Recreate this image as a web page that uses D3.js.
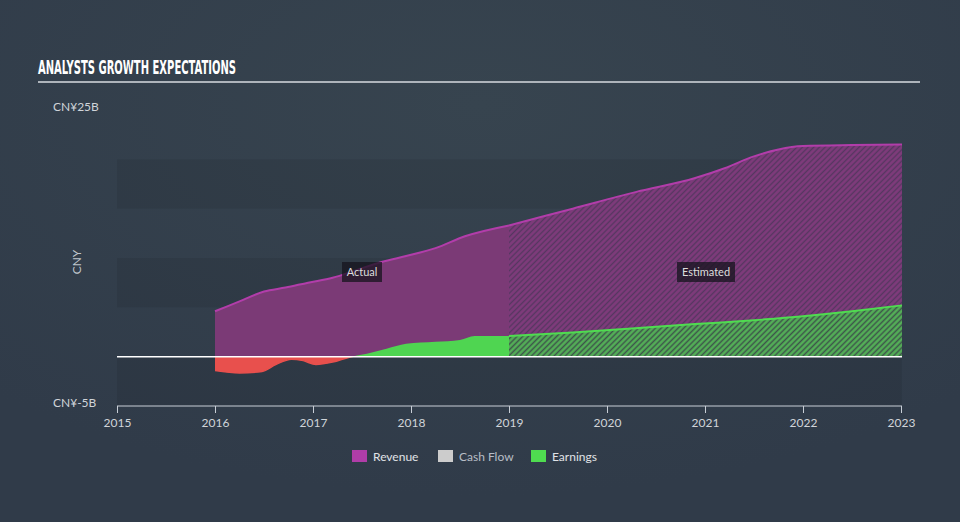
<!DOCTYPE html>
<html>
<head>
<meta charset="utf-8">
<script src="https://cdn.jsdelivr.net/npm/d3@7"></script>
<style>
  html, body { margin: 0; padding: 0; background: #323e4c; }
  svg { display: block; }
</style>
</head>
<body>
<svg id="chart" width="960" height="522"></svg>
<script>
// ---- Data (values in CNY billions, dates as decimal years) ----
const xTickYears = [2015, 2016, 2017, 2018, 2019, 2020, 2021, 2022, 2023];
const yTickLabels = ["CN¥25B", "CN¥-5B"];
const yTickValues = [25, -5];
const legendNames = ["Revenue", "Cash Flow", "Earnings"];

const revenueActualDates = [2016.0, 2016.25, 2016.5, 2016.72, 2016.95, 2017.2, 2017.45, 2017.7, 2017.95, 2018.25, 2018.55, 2019.0];
const revenueActual      = [4.6,    5.6,     6.6,    7.0,     7.5,     8.0,    8.8,     9.6,    10.2,    11.0,    12.2,    13.3];
const revenueEstDates    = [2019.0, 2019.65, 2020.3, 2020.9, 2021.2, 2021.5, 2021.75, 2022.0, 2022.5, 2023.01];
const revenueEst         = [13.3,   15.0,    16.7,   18.1,   19.1,   20.3,   21.0,    21.35,  21.45,  21.5];

const earningsActualDates = [2016.0, 2016.25, 2016.48, 2016.62, 2016.78, 2016.9, 2017.03, 2017.2, 2017.37, 2017.55, 2017.75, 2017.95, 2018.25, 2018.5, 2018.65, 2019.0];
const earningsActual      = [-1.4,   -1.65,   -1.5,    -0.8,    -0.25,   -0.4,   -0.8,    -0.55,  -0.05,   0.3,     0.8,     1.3,     1.5,     1.7,    2.1,     2.1];
const earningsEstDates    = [2019.0, 2019.65, 2020.25, 2020.9, 2021.5, 2022.0, 2022.5, 2023.01];
const earningsEst         = [2.1,    2.45,    2.85,    3.3,    3.7,    4.1,    4.6,    5.2];

// ---- Setup ----
const svg = d3.select("#chart");
const W = 960, H = 522;
const x = d3.scaleLinear().domain([2015, 2023]).range([117, 901]);
const y = d3.scaleLinear().domain([-5, 25]).range([406, 110]);
const xMax = 2023.01;

const defs = svg.append("defs");
const bg = defs.append("radialGradient").attr("id", "bgGrad").attr("cx", "50%").attr("cy", "20%").attr("r", "75%");
bg.append("stop").attr("offset", "0%").attr("stop-color", "#37444f");
bg.append("stop").attr("offset", "100%").attr("stop-color", "#303b49");
svg.append("rect").attr("width", W).attr("height", H).attr("fill", "url(#bgGrad)");

function hatch(id, base, stripe, sw) {
  const p = defs.append("pattern").attr("id", id).attr("patternUnits", "userSpaceOnUse")
    .attr("width", 4).attr("height", 4).attr("patternTransform", "rotate(45)");
  p.append("rect").attr("width", 4).attr("height", 4).attr("fill", base);
  p.append("line").attr("x1", 1.5).attr("y1", 0).attr("x2", 1.5).attr("y2", 4)
    .attr("stroke", stripe).attr("stroke-width", sw);
}
hatch("hatchRev", "#553760", "#803b7c", 2.6);
hatch("hatchEarn", "#3d544a", "#55b558", 2.4);

defs.append("clipPath").attr("id", "clipPos").append("rect")
  .attr("x", 0).attr("y", 0).attr("width", W).attr("height", y(0));
defs.append("clipPath").attr("id", "clipNeg").append("rect")
  .attr("x", 0).attr("y", y(0)).attr("width", W).attr("height", H - y(0));

// ---- Background bands ----
const bands = [[15, 20], [5, 10], [-5, 0]];
svg.append("g").selectAll("rect").data(bands).join("rect")
  .attr("x", x(2015)).attr("width", x(xMax) - x(2015))
  .attr("y", d => y(d[1])).attr("height", d => y(d[0]) - y(d[1]))
  .attr("fill", "rgba(0,0,0,0.07)");

// ---- Title ----
svg.append("text").attr("x", 38).attr("y", 74)
  .attr("font-family", "'Liberation Sans Narrow','DejaVu Sans Condensed',sans-serif")
  .attr("font-weight", "bold").attr("font-size", 19).attr("fill", "#ffffff")
  .attr("textLength", 198).attr("lengthAdjust", "spacingAndGlyphs")
  .text("ANALYSTS GROWTH EXPECTATIONS");
svg.append("line").attr("x1", 38).attr("x2", 920).attr("y1", 82).attr("y2", 82)
  .attr("stroke", "#aeb4bb").attr("stroke-width", 2);

// ---- Generators ----
const curve = d3.curveMonotoneX;
const areaGen = d3.area().x(d => x(d[0])).y0(y(0)).y1(d => y(d[1])).curve(curve);
const lineGen = d3.line().x(d => x(d[0])).y(d => y(d[1])).curve(curve);
const zip = (a, b) => a.map((v, i) => [v, b[i]]);

const revA = zip(revenueActualDates, revenueActual);
const revE = zip(revenueEstDates, revenueEst);
const earnA = zip(earningsActualDates, earningsActual);
const earnE = zip(earningsEstDates, earningsEst);

svg.append("path").datum(revA).attr("d", areaGen).attr("fill", "#7b3a76");
svg.append("path").datum(revE).attr("d", areaGen).attr("fill", "url(#hatchRev)");

svg.append("path").datum(earnA).attr("d", areaGen).attr("fill", "#4fd551").attr("clip-path", "url(#clipPos)");
svg.append("path").datum(earnA).attr("d", areaGen).attr("fill", "#e8504d").attr("clip-path", "url(#clipNeg)");
svg.append("path").datum(earnE).attr("d", areaGen).attr("fill", "url(#hatchEarn)");

svg.append("path").datum(revA).attr("d", lineGen)
  .attr("fill", "none").attr("stroke", "#b23daa").attr("stroke-width", 2);
svg.append("path").datum(revE).attr("d", lineGen)
  .attr("fill", "none").attr("stroke", "#b23daa").attr("stroke-width", 2);
svg.append("path").datum(earnE).attr("d", lineGen)
  .attr("fill", "none").attr("stroke", "#4fdc50").attr("stroke-width", 2);
svg.append("path").datum(earnA).attr("d", lineGen)
  .attr("fill", "none").attr("stroke", "#e8504d").attr("stroke-width", 1.5).attr("clip-path", "url(#clipNeg)");

svg.append("line").attr("x1", x(2015)).attr("x2", x(xMax)).attr("y1", y(0)).attr("y2", y(0))
  .attr("stroke", "#ffffff").attr("stroke-width", 1.5);

// ---- Axes ----
const xAxis = d3.axisBottom(x).tickValues(xTickYears).tickFormat(d3.format("d")).tickSize(7).tickSizeOuter(0);
const gx = svg.append("g").attr("transform", `translate(0,${y(-5)})`).call(xAxis);
gx.select(".domain").attr("stroke", "#c8ced6").attr("d", `M${x(2015)},0H${x(xMax)}`);
gx.selectAll(".tick line").attr("stroke", "#c8ced6");
gx.selectAll(".tick text").attr("fill", "#d0d4d9").attr("font-size", 12)
  .attr("font-family", "Lato, 'Open Sans', sans-serif").attr("dy", "0.9em");

svg.append("g").selectAll("text").data(yTickValues).join("text")
  .attr("x", 53).attr("y", d => y(d)).attr("dy", "0.1em")
  .attr("font-family", "Lato, 'Open Sans', sans-serif").attr("font-size", 12)
  .attr("fill", "#d0d4d9").text((d, i) => yTickLabels[i]);

svg.append("text").attr("transform", `translate(81,262) rotate(-90)`)
  .attr("text-anchor", "middle").attr("font-family", "Lato, 'Open Sans', sans-serif")
  .attr("font-size", 12).attr("fill", "#c0c6cd").text("CNY");

// ---- Actual / Estimated labels ----
function tag(cx, label, w) {
  const g = svg.append("g");
  g.append("rect").attr("x", cx - w / 2).attr("y", 262).attr("width", w).attr("height", 20)
    .attr("fill", "rgba(22,20,30,0.75)");
  g.append("text").attr("x", cx).attr("y", 276).attr("text-anchor", "middle")
    .attr("font-family", "Lato, 'Open Sans', sans-serif").attr("font-size", 11)
    .attr("fill", "#dddddd").text(label);
}
tag(362, "Actual", 40);
tag(706, "Estimated", 58);

// ---- Legend ----
const legendColors = ["#b03da8", "#cccccc", "#4fdc50"];
const legendX = [352, 438, 531];
const lg = svg.append("g");
legendNames.forEach((n, i) => {
  lg.append("rect").attr("x", legendX[i]).attr("y", 450).attr("width", 15).attr("height", 12)
    .attr("fill", legendColors[i]);
  lg.append("text").attr("x", legendX[i] + 21).attr("y", 460.5)
    .attr("font-family", "Lato, 'Open Sans', sans-serif").attr("font-size", 12)
    .attr("fill", i === 1 ? "#b8bec6" : "#e0e3e7").text(n);
});
</script>
</body>
</html>
